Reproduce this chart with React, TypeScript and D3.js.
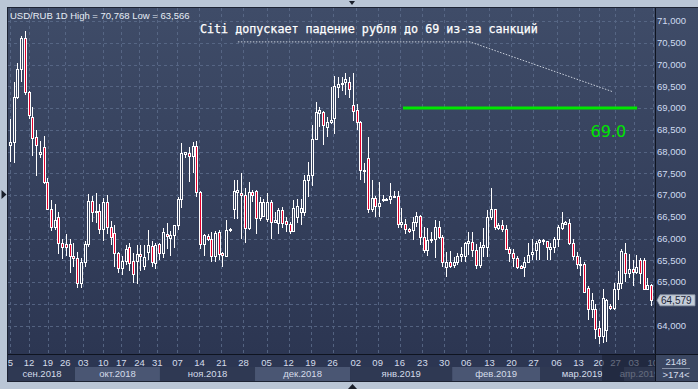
import React from 'react';
import * as d3 from 'd3';

const W = 698;
const H = 389;

// Daily candles USD/RUB (Sep 2018 – Apr 2019)
const opens = [68.15,68.22,69.25,69.9,70.6,69.37,68.8,68.33,67.95,68.1,67.3,66.68,66.27,66.5,65.9,65.88,65.87,65.6,65.55,64.98,65.45,65.87,66.87,66.63,66.63,66.22,66.85,66.26,66.12,65.66,
65.32,65.48,65.8,65.48,65.48,65.65,65.36,65.7,65.83,65.43,65.87,65.66,66.1,66.02,66.07,66.3,66.9,67.95,67.97,67.9,68.13,67.07,65.87,66.05,65.98,65.6,66.15,65.66,65.6,66.2,
66.68,67.08,67.04,67.0,66.24,67.07,67.1,66.47,66.52,66.45,66.84,66.38,66.35,66.65,66.4,66.33,66.18,66.5,66.62,66.6,67.35,67.46,68.29,68.88,68.9,68.56,68.68,68.77,69.48,69.55,
69.6,69.6,69.08,68.95,68.68,67.55,67.85,66.68,66.93,66.75,66.88,66.88,66.9,66.97,66.98,66.33,66.33,66.22,66.2,66.38,66.52,66.03,65.74,65.99,65.99,66.26,66.03,65.34,65.47,65.4,
65.45,65.6,65.6,65.89,65.93,65.74,65.39,65.8,65.8,66.5,66.68,66.24,66.3,66.22,65.76,65.66,65.55,65.36,65.34,65.47,65.65,65.74,65.92,65.94,65.95,65.76,65.8,66.0,66.25,66.34,
66.36,65.9,65.6,65.38,65.41,64.86,64.38,64.38,63.95,63.75,63.9,64.45,64.4,64.84,64.98,65.67,65.2,65.3,65.22,65.5,65.5,64.84,64.93];
const highs = [68.75,69.6,70.03,70.65,70.77,69.4,69.02,68.5,68.25,68.35,67.4,66.88,66.8,66.6,66.0,66.1,66.0,65.9,65.68,65.55,65.95,67.02,66.98,67.05,66.8,66.92,67.0,66.4,66.3,65.7,
65.6,65.85,65.9,65.67,65.85,65.85,65.85,66.2,65.95,65.9,65.9,66.25,66.35,66.18,66.32,66.95,68.2,68.0,68.1,68.22,68.25,67.1,66.1,66.1,66.15,66.18,66.2,65.7,66.42,66.25,
67.35,67.35,67.5,67.15,67.3,67.12,67.12,66.95,66.9,67.05,66.88,66.6,66.7,66.72,66.5,66.38,66.88,66.9,66.9,67.46,67.77,68.61,69.14,69.03,68.93,68.8,69.49,69.73,69.72,69.72,
69.8,69.72,69.8,69.1,68.7,67.74,68.34,67.34,66.98,67.3,67.0,66.93,67.28,67.1,67.1,66.7,66.45,66.25,66.5,66.62,66.54,66.26,66.24,66.16,66.42,66.4,66.08,65.7,65.72,65.57,
65.67,65.8,65.93,66.16,66.16,65.87,65.93,66.24,66.66,67.16,66.68,66.36,66.42,66.32,65.8,65.76,65.6,65.38,65.58,65.9,66.0,65.95,66.0,65.98,65.95,65.9,66.04,66.3,66.6,66.4,
66.45,65.98,65.7,65.57,65.46,64.9,64.75,64.5,64.1,64.84,64.62,64.5,64.98,65.26,65.77,65.9,65.65,65.5,65.62,65.55,65.55,65.1,64.95];
const lows = [67.75,67.74,69.2,69.6,69.3,68.75,67.9,67.44,67.85,67.25,66.65,66.17,66.2,65.65,65.52,65.6,65.2,65.35,64.86,64.86,65.35,65.8,66.38,66.35,66.1,65.95,66.1,65.85,65.35,65.2,
65.15,65.4,65.25,64.98,64.95,65.25,65.28,65.5,65.35,65.3,65.5,65.55,65.75,65.6,65.78,66.2,66.7,67.85,67.3,67.5,66.95,65.75,65.6,65.95,65.45,65.45,65.5,65.35,65.58,66.15,
66.45,66.45,66.0,65.9,66.2,66.85,66.1,66.4,66.5,66.38,66.0,66.35,66.1,66.23,66.15,66.1,66.15,66.35,66.3,66.52,66.96,67.2,68.26,68.57,68.15,68.33,68.63,68.4,69.22,69.4,
69.3,69.22,68.69,68.5,67.35,67.28,66.59,66.6,66.5,66.5,66.85,66.86,66.8,66.96,66.23,66.25,66.1,66.12,65.97,66.27,65.85,65.67,65.6,65.9,65.55,65.99,65.34,65.12,65.32,65.33,
65.4,65.45,65.47,65.62,65.58,65.31,65.33,65.58,65.58,66.43,66.2,66.2,66.14,65.73,65.47,65.34,65.3,65.3,65.12,65.44,65.5,65.5,65.5,65.85,65.5,65.5,65.67,65.8,66.2,66.3,
65.85,65.5,65.3,65.14,64.75,64.13,64.17,63.7,63.57,63.6,63.62,64.35,64.35,64.59,64.85,65.0,65.1,64.9,65.18,64.95,64.83,64.82,64.45];
const closes = [68.22,69.25,69.9,70.6,69.37,68.84,68.3,68.15,68.0,67.3,66.68,66.27,66.42,65.9,65.8,65.8,65.6,65.55,64.98,65.45,65.87,66.87,66.6,66.6,66.22,66.85,66.26,66.03,65.66,65.32,
65.48,65.76,65.44,65.18,65.64,65.6,65.57,65.85,65.45,65.85,65.66,66.15,66.05,66.08,66.3,66.9,67.96,67.98,67.9,68.13,67.07,65.87,66.08,65.98,65.6,66.13,65.64,65.62,66.2,66.22,
67.1,67.12,67.0,66.24,67.07,67.0,66.47,66.84,66.84,66.84,66.38,66.42,66.65,66.35,66.33,66.18,66.7,66.75,66.7,67.35,67.46,68.29,68.9,68.95,68.6,68.68,68.72,69.5,69.55,69.58,
69.66,69.43,68.93,68.68,67.57,67.58,66.68,66.93,66.75,66.82,66.9,66.9,66.98,66.98,66.33,66.38,66.22,66.17,66.38,66.52,66.03,65.74,65.97,65.96,66.26,66.03,65.46,65.47,65.36,65.45,
65.6,65.65,65.89,65.95,65.74,65.39,65.8,65.85,66.5,66.68,66.26,66.3,66.22,65.76,65.66,65.55,65.34,65.32,65.47,65.63,65.7,65.9,65.97,65.96,65.8,65.8,66.0,66.26,66.35,66.37,
65.9,65.6,65.41,65.42,64.77,64.38,64.59,63.92,63.75,64.63,64.58,64.4,64.84,64.98,65.71,65.2,65.3,65.22,65.35,65.2,64.84,64.93,64.579];

// Price axis ticks
const priceTicks = [64, 64.5, 65, 65.5, 66, 66.5, 67, 67.5, 68, 68.5, 69, 69.5, 70, 70.5, 71];

// Date axis (weekly labels, positioned at bar index)
const dateLabels = ['5','12','19','26','03','10','17','24','31','07','14','21','28','05','12','19','26','02','09','16','23','30','06','13','20','27','06','13','20','27','03','10'];
const dateIdx = [0,5,10,14.7,19.5,24.9,29.7,34.6,39.4,44.8,50.7,56.6,62.5,68.7,74.6,80.5,86.4,92.6,98.5,104.4,110.5,116.4,122.3,128.5,134.4,140.3,146.5,152.4,157.8,162.3,167.2,172.3];

const monthLabels = ['сен.2018','окт.2018','ноя.2018','дек.2018','янв.2019','фев.2019','мар.2019','апр.2019'];
const monthStart = [-0.4, 17.3, 40.1, 65.6, 91.1, 118.5, 142.1, 164.6];
const lastIdxEdge = 172.9;
const futureStartIdx = 158.7;

// Annotation data
const headerText = 'USD/RUB 1D High = 70,768 Low = 63,566';
const titleText = 'Citi допускает падение рубля до 69 из-за санкций';
const trendIdx = [61.0, 123.3, 161.7];
const trendPrice = [70.52, 70.52, 69.37];
const targetPrice = 69.0;
const targetIdx = [105.3, 168.1];
const targetLabel = '69.0';
const lastPrice = 64.579;
const cornerTop = '2148';
const cornerBottom = '>174<';

const plotL = 8, plotR = 655, plotT = 8, plotB = 354;

export default function App() {
  const x = d3.scaleLinear().domain([-0.4, lastIdxEdge]).range([9, plotR]);
  const y = d3.scaleLinear().domain([64, 69]).range([325.5, 108]);
  const fmt = (v: number) => v.toFixed(3).replace('.', ',');

  const candles = opens.map((o, i) => {
    const c = closes[i];
    const cx = Math.floor(x(i));
    const top = Math.round(y(Math.max(o, c)));
    const bot = Math.round(y(Math.min(o, c)));
    const h = Math.max(bot - top, 1);
    const down = c < o;
    return (
      <g key={i}>
        <line x1={cx + 0.5} x2={cx + 0.5} y1={Math.round(y(highs[i]))} y2={Math.round(y(lows[i]))} stroke="#ffffff" strokeWidth={1} />
        <rect x={cx - 1} y={top} width={3} height={h + 1} fill="#ffffff" />
        {h > 1 && <rect x={cx} y={top + 1} width={1} height={h - 1} fill={down ? '#e3002b' : 'url(#bgGrad)'} />}
      </g>
    );
  });

  const trendLine = d3.line<number>().x((d, i) => x(trendIdx[i])).y((d) => y(d));
  const futureX = x(futureStartIdx);
  const yLast = y(lastPrice);

  return (
    <svg width={W} height={H} style={{ position: 'absolute', left: 0, top: 0 }} fontFamily="'Liberation Sans', Arial, sans-serif">
      <defs>
        <linearGradient id="bgGrad" gradientUnits="userSpaceOnUse" x1={0} y1={plotT} x2={0} y2={plotB}>
          <stop offset="0" stopColor="#3f4c68" />
          <stop offset="1" stopColor="#2c3652" />
        </linearGradient>
        <clipPath id="plotClip"><rect x={plotL} y={plotT} width={plotR - plotL} height={plotB - plotT} /></clipPath>
        <clipPath id="axisClip"><rect x={plotL} y={plotB} width={plotR - plotL} height={28} /></clipPath>
      </defs>
      <rect x={0} y={0} width={W} height={H} fill="#bac6d6" />
      {/* chart background */}
      <rect x={plotL} y={plotT} width={W - plotL} height={plotB - plotT} fill="url(#bgGrad)" />
      <rect x={plotL} y={plotB} width={W - plotL} height={28} fill="#2c3652" />

      {/* grid */}
      <g stroke="#5d6d8c" strokeWidth={1} strokeDasharray="3,3" opacity={0.8}>
        {priceTicks.map((v) => (
          <line key={'h' + v} x1={plotL} x2={plotR} y1={Math.round(y(v)) + 0.5} y2={Math.round(y(v)) + 0.5} />
        ))}
        {dateIdx.map((d, i) => (
          <line key={'v' + i} x1={Math.round(x(d)) + 0.5} x2={Math.round(x(d)) + 0.5} y1={plotT} y2={plotB} />
        ))}
      </g>

      <g clipPath="url(#plotClip)">{candles}</g>

      {/* annotations */}
      <path d={trendLine(trendPrice) || ''} fill="none" stroke="#c9d0dc" strokeWidth={1} strokeDasharray="1.5,1.5" />
      <line x1={x(targetIdx[0])} x2={x(targetIdx[1])} y1={y(targetPrice)} y2={y(targetPrice)} stroke="#00e600" strokeWidth={3} />
      <text x={x(targetIdx[1]) - 11} y={y(targetPrice) + 29} textAnchor="end" fill="#00e600" fontSize={16} fontFamily="'DejaVu Sans', sans-serif">{targetLabel}</text>
      <text x={200} y={33} fill="#ffffff" fontSize={11.7} fontFamily="'DejaVu Sans Mono', monospace" stroke="#ffffff" strokeWidth={0.25}>{titleText}</text>
      <text x={10} y={18.5} fill="#e6ecf5" fontSize={9.5}>{headerText}</text>

      {/* right axis */}
      <line x1={plotR + 0.5} x2={plotR + 0.5} y1={plotT} y2={H - 7} stroke="#0f1420" strokeWidth={1} />
      <g fill="#cfdbf0" fontSize={9.5}>
        {priceTicks.filter((v) => Math.abs(y(v) - yLast) > 9).map((v) => (
          <text key={'t' + v} x={657} y={y(v)} dy="0.35em">{fmt(v)}</text>
        ))}
      </g>
      <path d={`M${plotR + 2},${yLast} L${plotR + 5},${yLast - 5.5} L${W - 3},${yLast - 5.5} L${W - 3},${yLast + 5.5} L${plotR + 5},${yLast + 5.5} Z`} fill="#c4ccd8" stroke="#8d98aa" strokeWidth={0.8} />
      <text x={661} y={yLast} dy="0.36em" fill="#1c263a" fontSize={10}>{fmt(lastPrice)}</text>

      {/* bottom axis */}
      <line x1={plotL} x2={W} y1={plotB + 0.5} y2={plotB + 0.5} stroke="#0f1420" strokeWidth={1} />
      <g clipPath="url(#axisClip)">
        {monthLabels.map((m, i) => {
          const x0 = x(monthStart[i]);
          const x1 = i + 1 < monthStart.length ? x(monthStart[i + 1]) : plotR;
          return (
            <g key={m}>
              <rect x={x0} y={367} width={x1 - x0} height={14} fill={i % 2 === 1 ? '#4a5673' : '#2f3953'} />
              <text x={(x0 + x1) / 2} y={374} dy="0.35em" textAnchor="middle" fill="#d4dcea" fontSize={9.5}>{m}</text>
            </g>
          );
        })}
        {dateLabels.map((l, i) => (
          <text key={'d' + i} x={x(dateIdx[i])} y={362.5} dy="0.35em" textAnchor="middle" fill="#d4dcea" fontSize={9.5}>{l}</text>
        ))}
        <rect x={futureX} y={plotB + 1} width={plotR - futureX} height={27} fill="#1a2236" opacity={0.6} />
      </g>
      <rect x={plotR + 1} y={plotB + 1} width={W - plotR - 1} height={27} fill="#3a4661" />
      <text x={676} y={362} dy="0.35em" textAnchor="middle" fill="#d4dcea" fontSize={9.5}>{cornerTop}</text>
      <line x1={662} x2={690} y1={368.5} y2={368.5} stroke="#8792a8" strokeWidth={1} />
      <text x={676} y={375} dy="0.35em" textAnchor="middle" fill="#d4dcea" fontSize={9.5}>{cornerBottom}</text>
      <line x1={plotL} x2={W} y1={381.5} y2={381.5} stroke="#1d2333" strokeWidth={1} />
      <rect x={plotL - 0.5} y={plotT - 0.5} width={W} height={382 - plotT} fill="none" stroke="#1d2333" strokeWidth={1} />

      {/* frame markers */}
      <path d="M1.5,190 L6.5,194.5 L1.5,199 Z" fill="#1a1f2a" />
      <path d="M348,389 L352.5,384 L357,389 Z" fill="#1a1f2a" />
      <path d="M349,1 L355,1 L352,5 Z" fill="#1a1f2a" />
    </svg>
  );
}
